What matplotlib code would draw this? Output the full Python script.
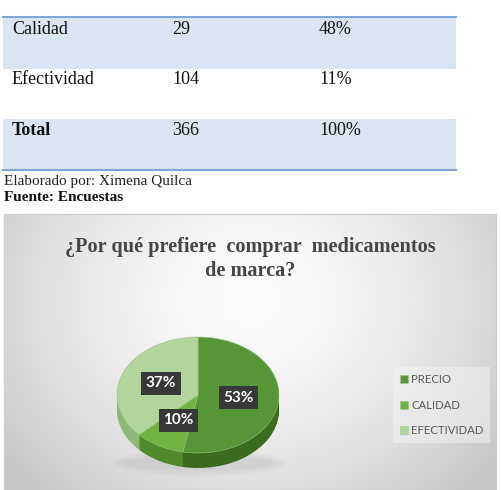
import numpy as np
import matplotlib
matplotlib.use("Agg")
import matplotlib.pyplot as plt
from matplotlib.patches import Rectangle, Ellipse

# ---- data ----
table_rows = ["Calidad", "Efectividad", "Total"]
table_counts = ["29", "104", "366"]
table_pcts = ["48%", "11%", "100%"]
note_author = "Elaborado por: Ximena Quilca"
note_source = "Fuente: Encuestas"

chart_title = "¿Por qué prefiere  comprar  medicamentos\nde marca?"
categories = ["PRECIO", "CALIDAD", "EFECTIVIDAD"]
values = [53, 10, 37]

top_colors = ["#579636", "#6fb443", "#b2d59c"]
side_colors = ["#3a6b1f", "#4f8a2b", "#8fb878"]

W, H = 501, 490
fig = plt.figure(figsize=(W / 100, H / 100), dpi=100)
fig.patch.set_facecolor("white")
ax0 = fig.add_axes([0, 0, 1, 1])
ax0.set_xlim(0, W)
ax0.set_ylim(H, 0)
ax0.axis("off")

# ---- table ----
band = "#d9e5f2"
line_c = "#7fa7d6"
ax0.add_patch(Rectangle((3, 17), 453, 52, facecolor=band, edgecolor="none"))
ax0.add_patch(Rectangle((3, 119), 453, 51, facecolor=band, edgecolor="none"))
ax0.plot([3, 456], [17, 17], color=line_c, lw=1.5)
ax0.plot([3, 456], [170, 170], color=line_c, lw=1.5)
row_y = [29, 80, 130]
for i, (r, c, p) in enumerate(zip(table_rows, table_counts, table_pcts)):
    fw = "bold" if r == "Total" else "normal"
    ax0.text(12, row_y[i], r, family="Liberation Serif", fontsize=13,
             fontweight=fw, va="center", ha="left", color="#111111")
    ax0.text(172, row_y[i], c, family="Liberation Serif", fontsize=13,
             va="center", ha="left", color="#111111")
    ax0.text(319, row_y[i], p, family="Liberation Serif", fontsize=13,
             va="center", ha="left", color="#111111")
ax0.text(4, 181, note_author, family="Liberation Serif", fontsize=11,
         va="center", ha="left", color="#222222")
ax0.text(4, 197, note_source, family="Liberation Serif", fontsize=11,
         fontweight="bold", va="center", ha="left", color="#111111")

# ---- chart background (radial gradient) ----
x0c, x1c, y0c, y1c = 4, 496, 214, 490
gx = np.linspace(x0c, x1c, 300)
gy = np.linspace(y0c, y1c, 200)
GX, GY = np.meshgrid(gx, gy)
r = np.sqrt(((GX - 250) / 300.0) ** 2 + ((GY - 300) / 260.0) ** 2)
g = np.clip(0.99 - 0.2 * r ** 1.6, 0.78, 1.0)
img = np.dstack([g, g, g])
ax0.imshow(img, extent=[x0c, x1c, y1c, y0c], aspect="auto", zorder=0.5,
           interpolation="bilinear")
ax0.add_patch(Rectangle((x0c, y0c), x1c - x0c, y1c - y0c, facecolor="none",
                        edgecolor="#cfcfcf", lw=1, zorder=1))
ax0.text(250, 259, chart_title, family="Liberation Serif", fontsize=14.6,
         fontweight="bold", ha="center", va="center", color="#454545",
         linespacing=1.3, zorder=2)

# soft shadow under pie
for k in range(6):
    ax0.add_patch(Ellipse((200, 463), 175 - k * 6, 28 - k * 3,
                          facecolor="#9a9a9a", alpha=0.035, edgecolor="none",
                          zorder=1.5))

# ---- 3D-looking pie ----
cx, cy, rx, ry = 198, 395, 81, 58
depth_px = 15
bottom_px = cy + ry + depth_px + 2
axp = fig.add_axes([(cx - rx) / W, (H - bottom_px) / H, 2 * rx / W,
                    (bottom_px - (cy - ry)) / H])
axp.set_facecolor("none")
d = depth_px / ry
nl = 16
for i in range(nl, 0, -1):
    off = d * i / nl
    axp.pie(values, colors=side_colors, startangle=90, counterclock=False,
            center=(0, -off), radius=1, wedgeprops=dict(linewidth=0))
wedges, texts, autotexts = axp.pie(
    values, colors=top_colors, startangle=90, counterclock=False,
    center=(0, 0), radius=1, autopct="%1.0f%%", pctdistance=0.5,
    wedgeprops=dict(linewidth=0.4, edgecolor="#9cc488"),
    textprops=dict(color="white", family="Lato", fontweight="bold",
                   fontsize=11))
for t in autotexts:
    t.set_bbox(dict(boxstyle="square,pad=0.3", facecolor="#383838",
                    edgecolor="none"))
axp.set_aspect("auto")
axp.set_xlim(-1, 1)
axp.set_ylim(1 - (bottom_px - (cy - ry)) / ry, 1)
axp.axis("off")

# ---- legend ----
leg = fig.legend(wedges, categories, loc="upper left",
                 bbox_to_anchor=(393 / W, 1 - 367 / H),
                 frameon=True, fancybox=False, framealpha=0.55,
                 facecolor="#f2f2f2", edgecolor="none",
                 handlelength=0.7, handleheight=0.7, handletextpad=0.3,
                 labelspacing=1.3, borderpad=0.6, borderaxespad=0,
                 prop=dict(family="Lato", size=8.2))
for t in leg.get_texts():
    t.set_color("#595959")

fig.savefig("out.png", dpi=100)
